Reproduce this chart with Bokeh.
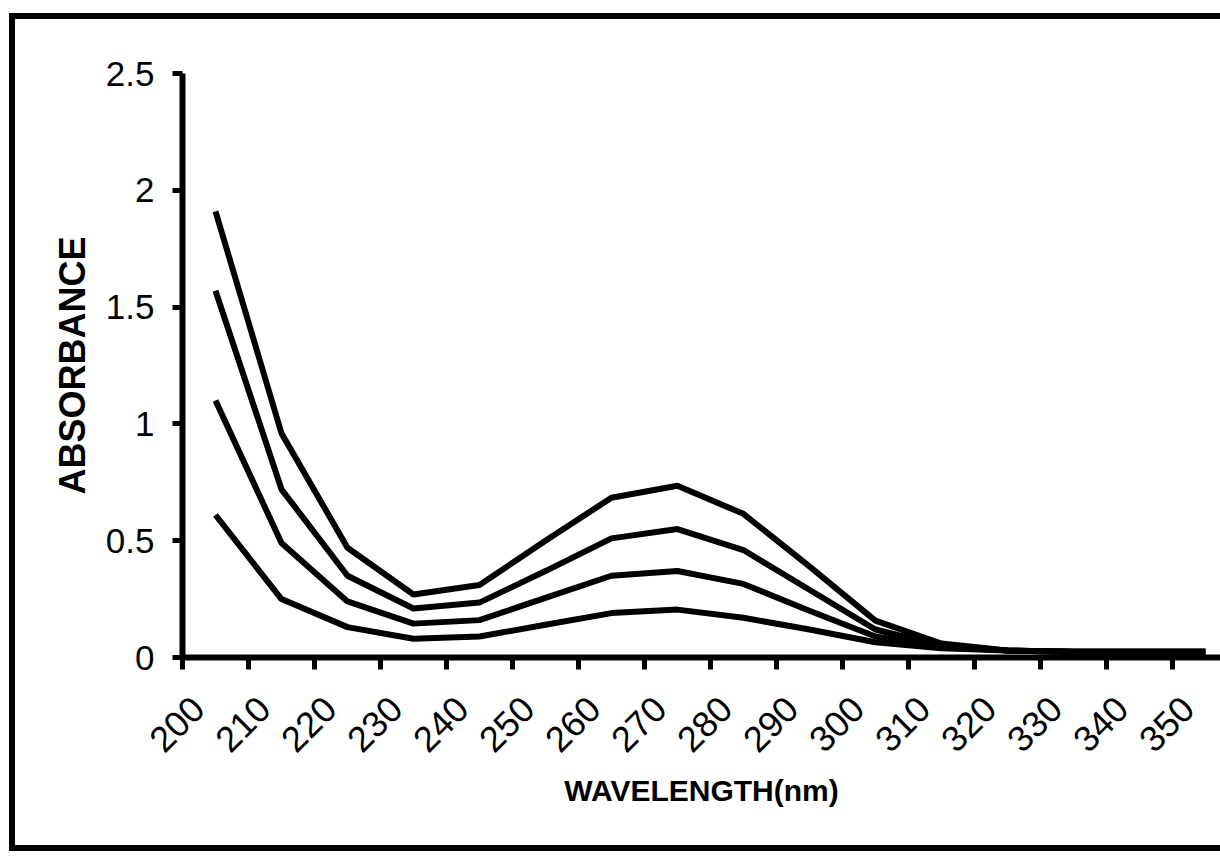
from bokeh.plotting import figure
from bokeh.models import FixedTicker, Range1d
from bokeh.embed import file_html
from bokeh.resources import INLINE
from math import pi

# Wavelength categories (nm) and absorbance of the four solutions
wavelengths = [200, 210, 220, 230, 240, 250, 260, 270, 280, 290,
               300, 310, 320, 330, 340, 350]
absorbance_1 = [1.91, 0.96, 0.47, 0.27, 0.31, 0.50, 0.684, 0.735, 0.615, 0.39,
                0.158, 0.06, 0.03, 0.025, 0.025, 0.025]
absorbance_2 = [1.57, 0.72, 0.35, 0.21, 0.235, 0.37, 0.51, 0.55, 0.46, 0.29,
                0.12, 0.05, 0.03, 0.025, 0.025, 0.025]
absorbance_3 = [1.10, 0.49, 0.24, 0.145, 0.16, 0.255, 0.35, 0.37, 0.315, 0.20,
                0.09, 0.045, 0.03, 0.025, 0.025, 0.025]
absorbance_4 = [0.61, 0.25, 0.13, 0.08, 0.09, 0.14, 0.19, 0.205, 0.17, 0.12,
                0.065, 0.04, 0.03, 0.025, 0.025, 0.025]
y_ticks = [0, 0.5, 1, 1.5, 2, 2.5]
y_tick_labels = ["0", "0.5", "1", "1.5", "2", "2.5"]

# categories sit at the centre of each slot; tick marks sit on slot borders
centers = [i + 0.5 for i in range(len(wavelengths))]
borders = list(range(len(wavelengths) + 1))
# rotated labels are anchored a little left of the slot centre
label_pos = [c - 0.27 for c in centers]

# the chart is boxed by a thick black frame drawn behind a transparent canvas
frame_css = {
    "background-color": "white",
    "background-image": ("linear-gradient(#000, #000), "
                         "linear-gradient(#000, #000), "
                         "linear-gradient(#000, #000)"),
    "background-position": "9px 13px, 9px 13px, 9px 845px",
    "background-size": "6px 838px, 1220px 6px, 1220px 6px",
    "background-repeat": "no-repeat",
}

p = figure(width=1220, height=856,
           x_range=Range1d(0, 15.73), y_range=Range1d(0, 2.5),
           output_backend="svg", toolbar_location=None,
           min_border_left=182, min_border_right=0,
           min_border_top=73, min_border_bottom=199,
           styles=frame_css)

p.background_fill_color = "white"
p.border_fill_color = None
p.outline_line_color = None
p.xgrid.visible = False
p.ygrid.visible = False

for series in (absorbance_1, absorbance_2, absorbance_3, absorbance_4):
    p.line(centers, series, line_color="black", line_width=6)

font = "Liberation Sans"

# x axis: labels near category centres, tick marks between categories
xa = p.xaxis[0]
xa.ticker = FixedTicker(ticks=label_pos, minor_ticks=borders)
xa.major_label_overrides = {c: str(w) for c, w in zip(label_pos, wavelengths)}
xa.major_label_orientation = pi / 4
xa.major_tick_line_color = None
xa.major_tick_out = 12
xa.major_tick_in = 0
xa.minor_tick_in = 0
xa.minor_tick_out = 12
xa.minor_tick_line_width = 5
xa.minor_tick_line_color = "black"
xa.axis_line_width = 6
xa.axis_line_color = "black"
xa.major_label_text_font = font
xa.major_label_text_font_size = "36px"
xa.major_label_text_color = "black"
xa.major_label_standoff = 33
xa.axis_label = "WAVELENGTH(nm)"
xa.axis_label_text_font = font
xa.axis_label_text_font_style = "bold"
xa.axis_label_text_font_size = "30px"
xa.axis_label_text_color = "black"
xa.axis_label_standoff = 8

ya = p.yaxis[0]
ya.ticker = FixedTicker(ticks=y_ticks, minor_ticks=[])
ya.major_label_overrides = {t: s for t, s in zip(y_ticks, y_tick_labels)}
ya.major_tick_in = 0
ya.major_tick_out = 10
ya.major_tick_line_width = 5
ya.axis_line_width = 6
ya.axis_line_color = "black"
ya.major_label_text_font = font
ya.major_label_text_font_size = "35px"
ya.major_label_text_color = "black"
ya.major_label_standoff = 18
ya.axis_label = "ABSORBANCE"
ya.axis_label_text_font = font
ya.axis_label_text_font_style = "bold"
ya.axis_label_text_font_size = "36px"
ya.axis_label_text_color = "black"
ya.axis_label_standoff = 10

open("out.html", "w").write(file_html(p, INLINE))
